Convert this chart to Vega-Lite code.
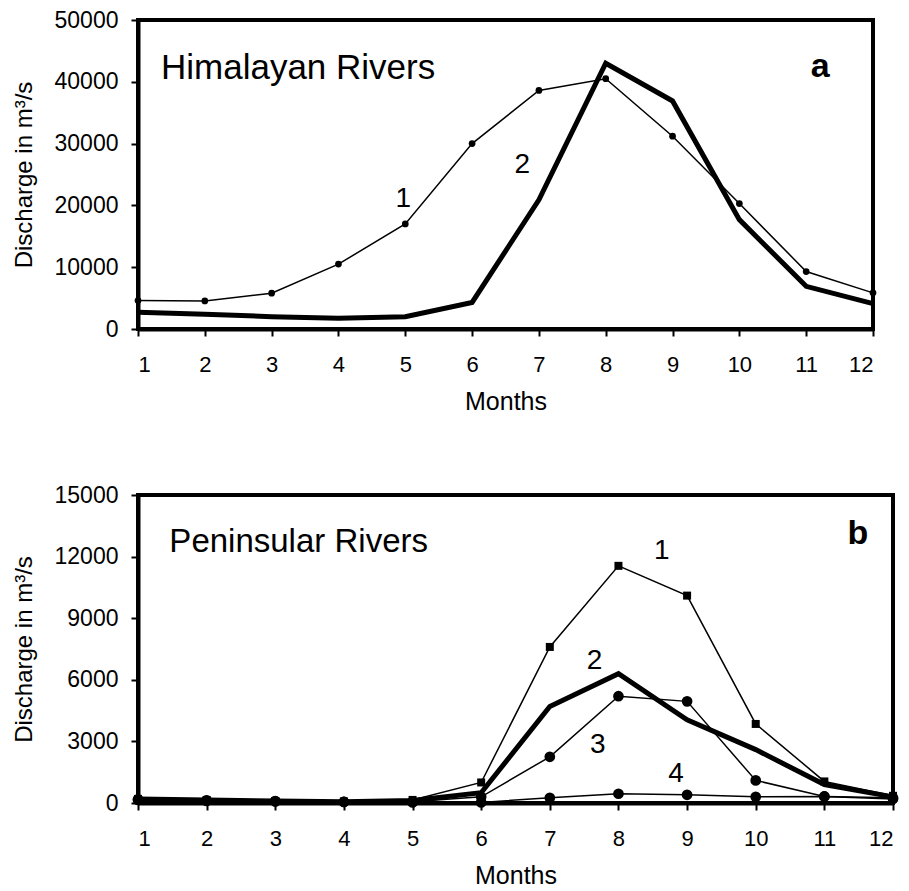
{
  "$schema": "https://vega.github.io/schema/vega-lite/v6.json",
  "background": "white",
  "padding": {"left": 10, "top": 7, "right": 5, "bottom": 5},
  "spacing": 66,
  "config": {
    "font": "Liberation Sans",
    "view": {"stroke": "black", "strokeWidth": 4},
    "axis": {
      "grid": false,
      "domainColor": "black",
      "domainWidth": 4,
      "tickColor": "black",
      "tickWidth": 2,
      "tickSize": 7,
      "labelColor": "black",
      "labelFont": "Liberation Sans",
      "labelFontSize": 22,
      "titleColor": "black",
      "titleFont": "Liberation Sans",
      "titleFontSize": 24,
      "titleFontWeight": "normal"
    },
    "axisX": {"labelPadding": 18, "titlePadding": 14, "titleFontSize": 25},
    "axisY": {"labelPadding": 13, "titlePadding": 18, "labelFontSize": 23}
  },
  "datasets": {
    "himalayan": [
      {"series": "1", "month": 1, "discharge": 4600},
      {"series": "1", "month": 2, "discharge": 4550},
      {"series": "1", "month": 3, "discharge": 5800},
      {"series": "1", "month": 4, "discharge": 10500},
      {"series": "1", "month": 5, "discharge": 17000},
      {"series": "1", "month": 6, "discharge": 30000},
      {"series": "1", "month": 7, "discharge": 38600},
      {"series": "1", "month": 8, "discharge": 40500},
      {"series": "1", "month": 9, "discharge": 31200},
      {"series": "1", "month": 10, "discharge": 20300},
      {"series": "1", "month": 11, "discharge": 9300},
      {"series": "1", "month": 12, "discharge": 5850},
      {"series": "2", "month": 1, "discharge": 2700},
      {"series": "2", "month": 2, "discharge": 2400},
      {"series": "2", "month": 3, "discharge": 2000},
      {"series": "2", "month": 4, "discharge": 1750},
      {"series": "2", "month": 5, "discharge": 2000},
      {"series": "2", "month": 6, "discharge": 4300},
      {"series": "2", "month": 7, "discharge": 20900},
      {"series": "2", "month": 8, "discharge": 43000},
      {"series": "2", "month": 9, "discharge": 36900},
      {"series": "2", "month": 10, "discharge": 17700},
      {"series": "2", "month": 11, "discharge": 6900},
      {"series": "2", "month": 12, "discharge": 4100}
    ],
    "peninsular": [
      {"series": "1", "month": 1, "discharge": 200},
      {"series": "1", "month": 2, "discharge": 150},
      {"series": "1", "month": 3, "discharge": 100},
      {"series": "1", "month": 4, "discharge": 80},
      {"series": "1", "month": 5, "discharge": 150},
      {"series": "1", "month": 6, "discharge": 1000},
      {"series": "1", "month": 7, "discharge": 7600},
      {"series": "1", "month": 8, "discharge": 11550},
      {"series": "1", "month": 9, "discharge": 10100},
      {"series": "1", "month": 10, "discharge": 3850},
      {"series": "1", "month": 11, "discharge": 1050},
      {"series": "1", "month": 12, "discharge": 350},
      {"series": "2", "month": 1, "discharge": 200},
      {"series": "2", "month": 2, "discharge": 150},
      {"series": "2", "month": 3, "discharge": 100},
      {"series": "2", "month": 4, "discharge": 60},
      {"series": "2", "month": 5, "discharge": 120},
      {"series": "2", "month": 6, "discharge": 500},
      {"series": "2", "month": 7, "discharge": 4700},
      {"series": "2", "month": 8, "discharge": 6300},
      {"series": "2", "month": 9, "discharge": 4050},
      {"series": "2", "month": 10, "discharge": 2600},
      {"series": "2", "month": 11, "discharge": 900},
      {"series": "2", "month": 12, "discharge": 300},
      {"series": "3", "month": 1, "discharge": 180},
      {"series": "3", "month": 2, "discharge": 130},
      {"series": "3", "month": 3, "discharge": 90},
      {"series": "3", "month": 4, "discharge": 50},
      {"series": "3", "month": 5, "discharge": 60},
      {"series": "3", "month": 6, "discharge": 300},
      {"series": "3", "month": 7, "discharge": 2250},
      {"series": "3", "month": 8, "discharge": 5200},
      {"series": "3", "month": 9, "discharge": 4950},
      {"series": "3", "month": 10, "discharge": 1100},
      {"series": "3", "month": 11, "discharge": 320},
      {"series": "3", "month": 12, "discharge": 200},
      {"series": "4", "month": 1, "discharge": 150},
      {"series": "4", "month": 2, "discharge": 100},
      {"series": "4", "month": 3, "discharge": 80},
      {"series": "4", "month": 4, "discharge": 50},
      {"series": "4", "month": 5, "discharge": 30},
      {"series": "4", "month": 6, "discharge": 30},
      {"series": "4", "month": 7, "discharge": 250},
      {"series": "4", "month": 8, "discharge": 450},
      {"series": "4", "month": 9, "discharge": 400},
      {"series": "4", "month": 10, "discharge": 300},
      {"series": "4", "month": 11, "discharge": 320},
      {"series": "4", "month": 12, "discharge": 250}
    ],
    "notes": [
      {"panel": "a", "kind": "panel", "month": 1.344, "discharge": 42200, "label": "Himalayan Rivers"},
      {"panel": "a", "kind": "num", "month": 4.97, "discharge": 21000, "label": "1"},
      {"panel": "a", "kind": "num", "month": 6.75, "discharge": 26500, "label": "2"},
      {"panel": "a", "kind": "tag", "month": 11.21, "discharge": 42440, "label": "a"},
      {"panel": "b", "kind": "panel", "month": 1.457, "discharge": 12700, "label": "Peninsular Rivers"},
      {"panel": "b", "kind": "num", "month": 8.63, "discharge": 12287, "label": "1"},
      {"panel": "b", "kind": "num", "month": 7.65, "discharge": 6930, "label": "2"},
      {"panel": "b", "kind": "num", "month": 7.7, "discharge": 2815, "label": "3"},
      {"panel": "b", "kind": "num", "month": 8.84, "discharge": 1427, "label": "4"},
      {"panel": "b", "kind": "tag", "month": 11.49, "discharge": 13115, "label": "b"}
    ]
  },
  "vconcat": [
    {
      "width": 735,
      "height": 309,
      "encoding": {
        "x": {"field": "month", "type": "quantitative", "scale": {"domain": [1, 12], "nice": false, "zero": false}, "axis": {"values": [1,2,3,4,5,6,7,8,9,10,11,12], "title": "Months"}},
        "y": {"field": "discharge", "type": "quantitative", "scale": {"domain": [0, 50000], "nice": false}, "axis": {"values": [0,10000,20000,30000,40000,50000], "format": "d", "title": "Discharge in m³/s"}}
      },
      "layer": [
        {
          "data": {"name": "himalayan"},
          "transform": [{"filter": "datum.series == '1'"}],
          "mark": {"type": "line", "color": "black", "strokeWidth": 1.5, "strokeJoin": "miter"},
          "encoding": {}
        },
        {
          "data": {"name": "himalayan"},
          "transform": [{"filter": "datum.series == '2'"}],
          "mark": {"type": "line", "color": "black", "strokeWidth": 5, "strokeJoin": "miter"},
          "encoding": {}
        },
        {
          "data": {"name": "himalayan"},
          "transform": [{"filter": "datum.series == '1'"}],
          "mark": {"type": "point", "filled": true, "color": "black", "opacity": 1, "size": 45}
        },
        {
          "data": {"name": "notes"},
          "transform": [{"filter": "datum.panel == 'a' && datum.kind == 'panel'"}],
          "mark": {"type": "text", "align": "left", "baseline": "middle", "fontSize": 35, "color": "black"},
          "encoding": {"text": {"field": "label"}}
        },
        {
          "data": {"name": "notes"},
          "transform": [{"filter": "datum.panel == 'a' && datum.kind == 'num'"}],
          "mark": {"type": "text", "align": "center", "baseline": "middle", "fontSize": 28, "color": "black"},
          "encoding": {"text": {"field": "label"}}
        },
        {
          "data": {"name": "notes"},
          "transform": [{"filter": "datum.panel == 'a' && datum.kind == 'tag'"}],
          "mark": {"type": "text", "align": "center", "baseline": "middle", "fontSize": 34, "fontWeight": "bold", "color": "black"},
          "encoding": {"text": {"field": "label"}}
        }
      ]
    },
    {
      "width": 755,
      "height": 308,
      "encoding": {
        "x": {"field": "month", "type": "quantitative", "scale": {"domain": [1, 12], "nice": false, "zero": false}, "axis": {"values": [1,2,3,4,5,6,7,8,9,10,11,12], "title": "Months"}},
        "y": {"field": "discharge", "type": "quantitative", "scale": {"domain": [0, 15000], "nice": false}, "axis": {"values": [0,3000,6000,9000,12000,15000], "format": "d", "title": "Discharge in m³/s"}}
      },
      "layer": [
        {
          "data": {"name": "peninsular"},
          "transform": [{"filter": "datum.series != '2'"}],
          "mark": {"type": "line", "color": "black", "strokeWidth": 1.5, "strokeJoin": "miter"},
          "encoding": {"detail": {"field": "series", "type": "nominal"}}
        },
        {
          "data": {"name": "peninsular"},
          "transform": [{"filter": "datum.series == '2'"}],
          "mark": {"type": "line", "color": "black", "strokeWidth": 5, "strokeJoin": "miter"},
          "encoding": {}
        },
        {
          "data": {"name": "peninsular"},
          "transform": [{"filter": "datum.series == '1'"}],
          "mark": {"type": "square", "filled": true, "color": "black", "opacity": 1, "size": 64}
        },
        {
          "data": {"name": "peninsular"},
          "transform": [{"filter": "datum.series == '3' || datum.series == '4'"}],
          "mark": {"type": "circle", "color": "black", "opacity": 1, "size": 115}
        },
        {
          "data": {"name": "notes"},
          "transform": [{"filter": "datum.panel == 'b' && datum.kind == 'panel'"}],
          "mark": {"type": "text", "align": "left", "baseline": "middle", "fontSize": 33, "color": "black"},
          "encoding": {"text": {"field": "label"}}
        },
        {
          "data": {"name": "notes"},
          "transform": [{"filter": "datum.panel == 'b' && datum.kind == 'num'"}],
          "mark": {"type": "text", "align": "center", "baseline": "middle", "fontSize": 28, "color": "black"},
          "encoding": {"text": {"field": "label"}}
        },
        {
          "data": {"name": "notes"},
          "transform": [{"filter": "datum.panel == 'b' && datum.kind == 'tag'"}],
          "mark": {"type": "text", "align": "center", "baseline": "middle", "fontSize": 34, "fontWeight": "bold", "color": "black"},
          "encoding": {"text": {"field": "label"}}
        }
      ]
    }
  ]
}
